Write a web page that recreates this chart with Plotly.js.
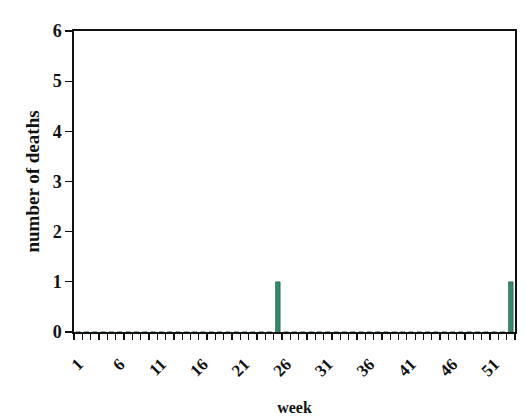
<!DOCTYPE html>
<html>
<head>
<meta charset="utf-8">
<script src="https://cdn.plot.ly/plotly-3.0.1.min.js"></script>
<style>html,body{margin:0;padding:0;background:#fff;}#chart{width:526px;height:418px;}</style>
</head>
<body>
<div id="chart"></div>
<script>
// Data
const weeks = Array.from({length: 53}, (_, i) => i + 1);
const deathWeeks = [25, 53];
const deathCounts = [1, 1];
const deaths = weeks.map(w => { const k = deathWeeks.indexOf(w); return k >= 0 ? deathCounts[k] : 0; });
const labelWeeks = [1, 6, 11, 16, 21, 26, 31, 36, 41, 46, 51];
const labelText = ["1", "6", "11", "16", "21", "26", "31", "36", "41", "46", "51"];
const yTicks = [0, 1, 2, 3, 4, 5, 6];

const serif = "Liberation Serif, Times New Roman, serif";

Plotly.newPlot("chart", [{
  type: "bar",
  x: weeks,
  y: deaths,
  width: 0.55,
  marker: {color: "#338a6c", line: {color: "#1f4f3f", width: 0.6}},
  hoverinfo: "x+y"
}], {
  width: 526, height: 418,
  margin: {l: 74, r: 11, t: 31, b: 86},
  paper_bgcolor: "#ffffff",
  plot_bgcolor: "#ffffff",
  showlegend: false,
  bargap: 0,
  xaxis: {
    range: [0.5, 53.5],
    tickmode: "array",
    tickvals: labelWeeks,
    ticktext: labelText,
    tickangle: -45,
    ticks: "",
    ticklabelstandoff: 14,
    showgrid: false,
    zeroline: false,
    showline: true, linecolor: "#111", linewidth: 1.6, mirror: true,
    minor: {tick0: 0.5, dtick: 1, ticks: "outside", ticklen: 6, tickwidth: 1.3, tickcolor: "#111", showgrid: false},
    tickfont: {family: serif, size: 17, color: "#111", weight: "bold"},
    title: {text: "<b>week</b>", font: {family: serif, size: 16, color: "#111"}, standoff: 22}
  },
  yaxis: {
    range: [0, 6],
    tickmode: "array",
    tickvals: yTicks,
    ticks: "outside", ticklen: 7, tickwidth: 1.3, tickcolor: "#111",
    showgrid: false,
    zeroline: false,
    showline: true, linecolor: "#111", linewidth: 1.6, mirror: true,
    tickfont: {family: serif, size: 18, color: "#111", weight: "bold"},
    title: {text: "<b>number of deaths</b>", font: {family: serif, size: 19, color: "#111"}, standoff: 8}
  }
}, {displayModeBar: false, staticPlot: true});
</script>
</body>
</html>
